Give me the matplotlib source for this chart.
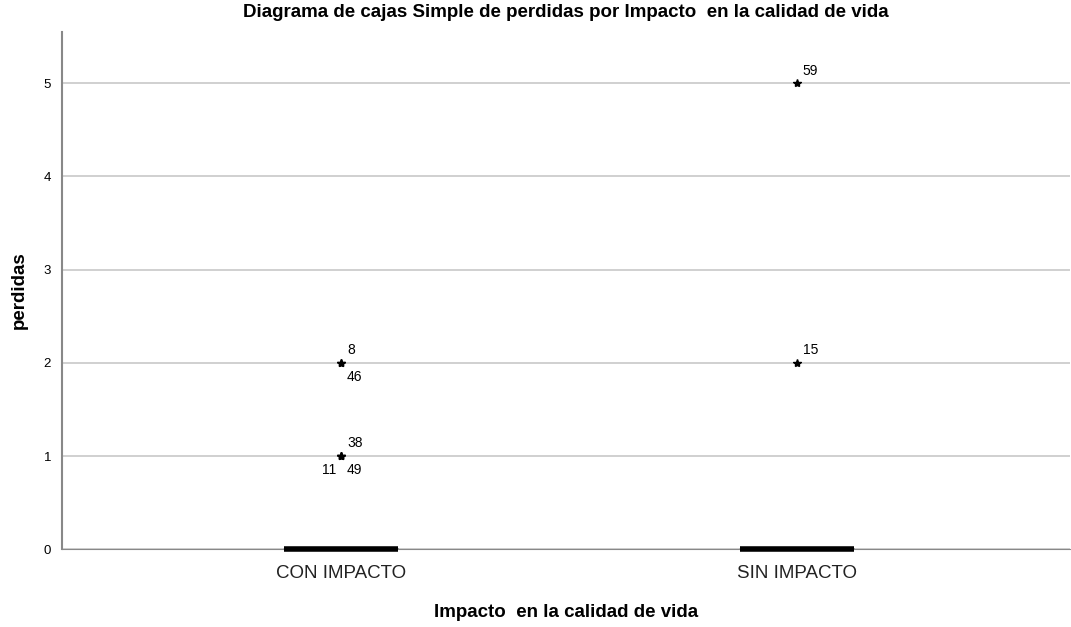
import matplotlib.pyplot as plt
import numpy as np

plt.rcParams['font.family'] = ['Liberation Sans', 'DejaVu Sans']

# Data
categories = ["CON IMPACTO", "SIN IMPACTO"]
n_zeros = [45, 45]
outlier_values = [[2, 2, 1, 1, 1], [5, 2]]
outlier_ids = [["8", "46", "38", "11", "49"], ["59", "15"]]
# label placement: 'ur' upper right, 'lr' lower right, 'll' lower left
label_pos = [["ur", "lr", "ur", "ll", "lr"], ["ur", "ur"]]

data = [np.array([0] * n + vals) for n, vals in zip(n_zeros, outlier_values)]

fig, ax = plt.subplots(figsize=(10.71, 6.27), dpi=100)
fig.subplots_adjust(left=0.058, right=0.999, top=0.949, bottom=0.124)

bp = ax.boxplot(data, positions=[1, 2], widths=0.25, whis=1.5,
                medianprops=dict(color='black', linewidth=4, solid_capstyle='butt'),
                boxprops=dict(color='black', linewidth=1),
                whiskerprops=dict(color='black'), capprops=dict(linewidth=0),
                flierprops=dict(marker='*', markersize=6, markerfacecolor='black',
                                markeredgecolor='black', linestyle='none'))
for m in bp['medians']:
    m.set_clip_on(False)
    m.set_zorder(5)

offsets = {"ur": (4, 4, 'left', 'bottom'), "lr": (4, -5, 'left', 'top'),
           "ll": (-4, -5, 'right', 'top')}
for i, (vals, ids, poss) in enumerate(zip(outlier_values, outlier_ids, label_pos)):
    for v, lab, p in zip(vals, ids, poss):
        dx, dy, ha, va = offsets[p]
        ax.annotate(lab, (i + 1, v), xytext=(dx, dy), textcoords='offset points',
                    ha=ha, va=va, fontsize=10)

ax.set_xlim(0.387, 2.599)
ax.set_ylim(0, 5.55)
ax.set_yticks([0, 1, 2, 3, 4, 5])
ax.set_xticks([1, 2])
ax.set_xticklabels(categories, fontsize=13.5, color='#222222')
ax.tick_params(axis='y', labelsize=9.5, length=0, pad=8)
ax.tick_params(axis='x', length=0, pad=11)
ax.yaxis.grid(True, color='#c8c8c8', linewidth=1.2)
ax.set_axisbelow(True)
for s in ['top', 'right']:
    ax.spines[s].set_visible(False)
ax.spines['left'].set_color('#888888')
ax.spines['left'].set_linewidth(1.5)
ax.spines['bottom'].set_color('#888888')

ax.set_xlabel('Impacto  en la calidad de vida', fontsize=13.5, fontweight='bold', labelpad=16)
ax.set_ylabel('perdidas', fontsize=13.5, fontweight='bold', labelpad=11)
ax.set_title('Diagrama de cajas Simple de perdidas por Impacto  en la calidad de vida',
             fontsize=13.5, fontweight='bold', pad=11)

plt.savefig("out.png", dpi=100)
